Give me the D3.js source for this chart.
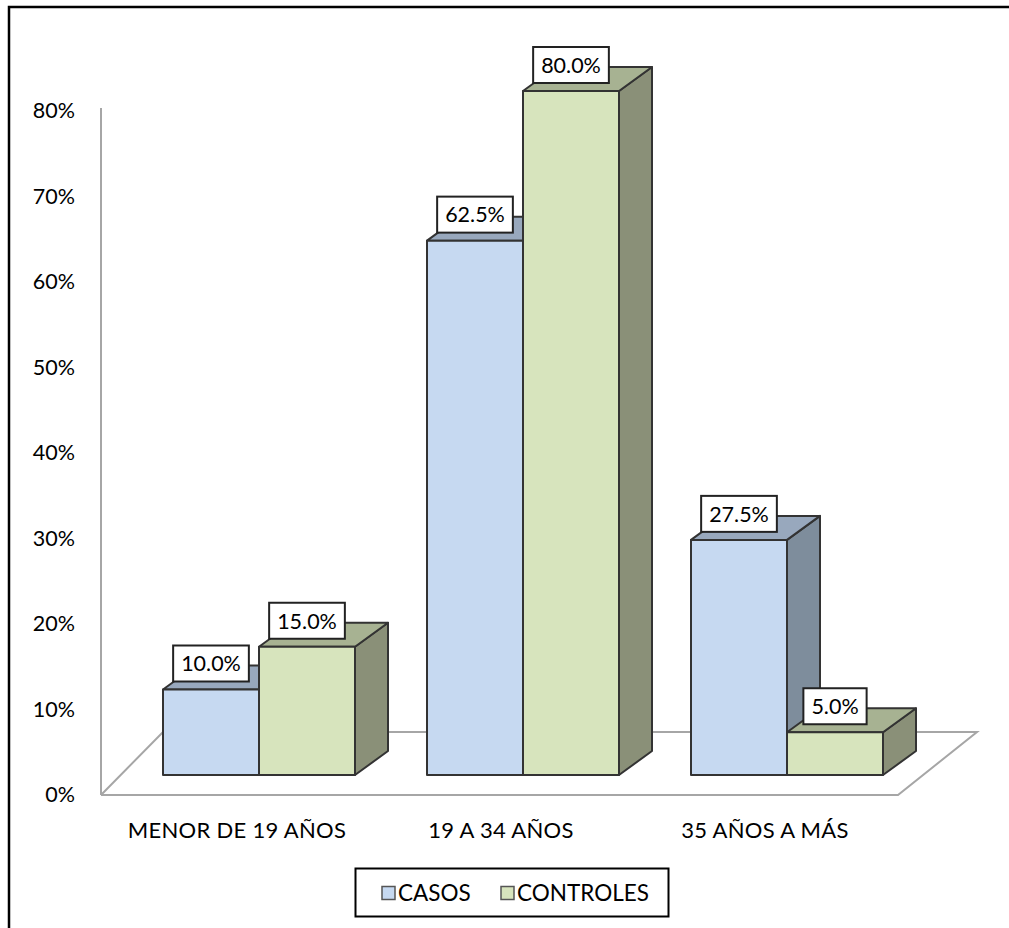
<!DOCTYPE html>
<html>
<head>
<meta charset="utf-8">
<script src="https://cdnjs.cloudflare.com/ajax/libs/d3/7.8.5/d3.min.js"></script>
<style>
  body { margin: 0; background: #fff; }
  text { font-family: Lato, "Open Sans", sans-serif; fill: #000; }
</style>
</head>
<body>
<svg></svg>
<script>
var w = 1009,
    h = 928;

var categories = ["MENOR DE 19 AÑOS", "19 A 34 AÑOS", "35 AÑOS A MÁS"];
var series = ["CASOS", "CONTROLES"];
var casos = [10.0, 62.5, 27.5];
var controles = [15.0, 80.0, 5.0];
var yTicks = [0, 10, 20, 30, 40, 50, 60, 70, 80];

var front = { CASOS: "#c6d9f1", CONTROLES: "#d7e4bd" };
var top3d = { CASOS: "#98a8bd", CONTROLES: "#a7b292" };
var side3d = { CASOS: "#7e8d9c", CONTROLES: "#8a9078" };

var dx = 33, dy = 24;   // depth of the bars

var svg = d3.select("svg")
  .attr("width", w)
  .attr("height", h);

// frame: only top and left edges are inside the picture
svg.append("path")
  .attr("d", "M9,928V7H1009")
  .attr("fill", "none")
  .attr("stroke", "#000")
  .attr("stroke-width", 2.5);

var x0 = d3.scaleBand()
  .domain(categories)
  .range([127, 919])
  .paddingInner(72 / 264)
  .paddingOuter(36 / 264);

var x1 = d3.scaleBand()
  .domain(series)
  .range([0, x0.bandwidth()]);

// bars stand in the middle of the floor, the axis sits on its front edge
var y = d3.scaleLinear().domain([0, 80]).range([775, 91]);
var yAxisScale = d3.scaleLinear().domain([0, 80]).range([795, 111]);

// floor
var floorFront = yAxisScale(0), floorBack = 732;
svg.append("path")
  .attr("d", d3.line()([[101, floorFront], [898, floorFront], [977, floorBack], [163, floorBack], [101, floorFront]]))
  .attr("fill", "none")
  .attr("stroke", "#a6a6a6")
  .attr("stroke-width", 2);

// y axis
var yAxis = svg.append("g")
  .attr("transform", "translate(101,0)")
  .call(d3.axisLeft(yAxisScale).tickValues(yTicks).tickSize(0).tickPadding(26)
    .tickFormat(function(d) { return d + "%"; }));
yAxis.select(".domain").attr("stroke", "#a6a6a6").attr("stroke-width", 2)
  .attr("d", "M0," + yAxisScale(0) + "V108");
yAxis.selectAll("text")
  .style("font-family", "Lato, sans-serif")
  .style("font-size", "21.5px")
  .attr("fill", "#000");

// data rows
var rows = [];
categories.forEach(function(c, i) {
  rows.push({ cat: c, s: "CASOS", v: casos[i] });
  rows.push({ cat: c, s: "CONTROLES", v: controles[i] });
});

var bars = svg.append("g").selectAll("g")
  .data(rows)
  .enter()
  .append("g");

bars.each(function(d) {
  var g = d3.select(this);
  var xa = x0(d.cat) + x1(d.s),
      xb = xa + x1.bandwidth(),
      yt = y(d.v),
      yb = y(0);
  g.append("path")
    .attr("d", d3.line()([[xb, yt], [xb + dx, yt - dy], [xb + dx, yb - dy], [xb, yb]]) + "Z")
    .attr("fill", side3d[d.s]);
  g.append("path")
    .attr("d", d3.line()([[xa, yt], [xa + dx, yt - dy], [xb + dx, yt - dy], [xb, yt]]) + "Z")
    .attr("fill", top3d[d.s]);
  g.append("rect")
    .attr("x", xa).attr("y", yt)
    .attr("width", xb - xa).attr("height", yb - yt)
    .attr("fill", front[d.s]);
  g.selectAll("path, rect")
    .attr("stroke", "#333")
    .attr("stroke-width", 2)
    .attr("stroke-linejoin", "round");
});

// data labels
var labels = svg.append("g").selectAll("g")
  .data(rows)
  .enter()
  .append("g")
  .attr("transform", function(d) {
    var cx = x0(d.cat) + x1(d.s) + x1.bandwidth() / 2;
    return "translate(" + cx + "," + (y(d.v) - dy - 2) + ")";
  });

labels.append("rect")
  .attr("fill", "#fff")
  .attr("stroke", "#222")
  .attr("stroke-width", 2);

labels.append("text")
  .attr("text-anchor", "middle")
  .attr("dy", "0.36em")
  .style("font-size", "21.5px")
  .text(function(d) { return d.v.toFixed(1) + "%"; });

labels.each(function() {
  var g = d3.select(this);
  var tw = g.select("text").node().getComputedTextLength();
  g.select("rect")
    .attr("x", -tw / 2 - 8).attr("y", -18)
    .attr("width", tw + 16).attr("height", 36);
});

// category labels
svg.append("g").selectAll("text")
  .data(categories)
  .enter()
  .append("text")
  .attr("x", function(d) { return x0(d) + x0.bandwidth() / 2 - 22; })
  .attr("y", 830)
  .attr("dy", "0.36em")
  .attr("text-anchor", "middle")
  .style("font-size", "22px")
  .style("letter-spacing", "0.3px")
  .text(function(d) { return d; });

// legend
var legend = svg.append("g");
legend.append("rect")
  .attr("x", 355.5).attr("y", 868.5)
  .attr("width", 313).attr("height", 48)
  .attr("fill", "#fff")
  .attr("stroke", "#000")
  .attr("stroke-width", 2);

var legendX = [382, 501];
var items = legend.selectAll("g")
  .data(series)
  .enter()
  .append("g")
  .attr("transform", function(d, i) { return "translate(" + legendX[i] + ",893)"; });

items.append("rect")
  .attr("x", 0).attr("y", -6.5)
  .attr("width", 13).attr("height", 13)
  .attr("fill", function(d) { return front[d]; })
  .attr("stroke", "#555")
  .attr("stroke-width", 1.5);

items.append("text")
  .attr("x", 16)
  .attr("dy", "0.36em")
  .style("font-size", "22.5px")
  .text(function(d) { return d; });
</script>
</body>
</html>
